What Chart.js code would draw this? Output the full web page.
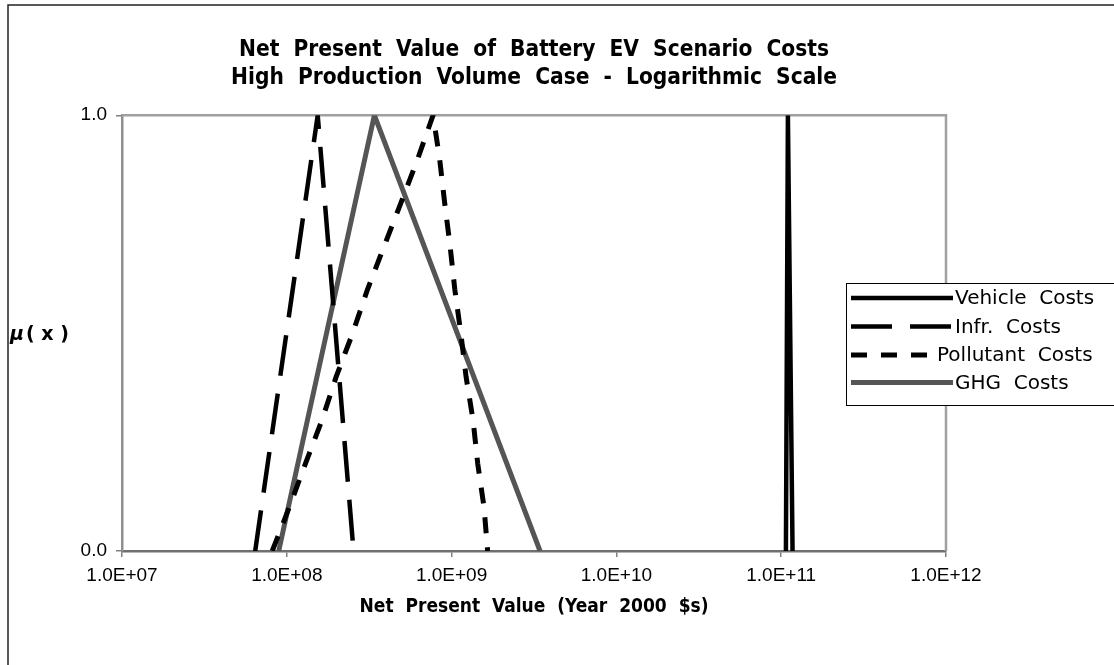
<!DOCTYPE html>
<html>
<head>
<meta charset="utf-8">
<title>Net Present Value of Battery EV Scenario Costs</title>
<script src="https://cdn.jsdelivr.net/npm/chart.js@4/dist/chart.umd.min.js"></script>
<style>
  html, body { margin: 0; padding: 0; background: #ffffff; }
  #wrap { width: 1114px; height: 665px; position: relative; }
  #npv { display: block; }
</style>
</head>
<body>
<div id="wrap"><canvas id="npv" width="1114" height="665"></canvas></div>
<script>
// Fuzzy NPV estimates (year 2000 $) and their membership grades mu(x)
const seriesNames = ['Vehicle Costs', 'Infr. Costs', 'Pollutant Costs', 'GHG Costs'];

const vehicleNPV = [1.068e11, 1.098e11, 1.172e11];
const vehicleMu  = [0, 1, 0];

const infrNPV = [6.43e7, 1.54e8, 2.54e8];
const infrMu  = [0, 1, 0];

const pollutantNPV = [8.16e7, 1.034e8, 1.296e8, 1.633e8, 1.994e8, 2.51e8, 3.087e8, 3.90e8, 4.94e8, 6.23e8, 7.72e8,
                      8.46e8, 9.07e8, 9.79e8, 1.046e9, 1.137e9, 1.224e9, 1.35e9, 1.441e9, 1.574e9, 1.654e9];
const pollutantMu  = [0, 0.1, 0.2, 0.3, 0.4, 0.5, 0.6, 0.7, 0.8, 0.9, 1.0,
                      0.9, 0.8, 0.7, 0.6, 0.5, 0.4, 0.3, 0.2, 0.1, 0];

const ghgNPV = [8.93e7, 3.40e8, 3.44e9];
const ghgMu  = [0, 1, 0];

const xTickValues = [1e7, 1e8, 1e9, 1e10, 1e11, 1e12];
const xTickLabels = ['1.0E+07', '1.0E+08', '1.0E+09', '1.0E+10', '1.0E+11', '1.0E+12'];
const yTickValues = [0, 1];
const yTickLabels = ['0.0', '1.0'];

const toPoints = (xs, ys) => xs.map((x, i) => ({ x: x, y: ys[i] }));

const NARROW = "'Liberation Sans Narrow', 'DejaVu Sans Condensed', 'Liberation Sans', sans-serif";
const PLAIN = "'Liberation Sans', Arial, sans-serif";
const LEGEND_FONT = "'DejaVu Sans', Verdana, sans-serif";

const lineBase = {
  fill: false, tension: 0, pointRadius: 0, pointHoverRadius: 0,
  borderCapStyle: 'butt', borderJoinStyle: 'miter'
};

// Page frame, plot-area border and the horizontal mu(x) label
const framePlugin = {
  id: 'frame',
  beforeDraw(chart) {
    const ctx = chart.ctx;
    ctx.save();
    ctx.fillStyle = '#ffffff';
    ctx.fillRect(0, 0, chart.width, chart.height);
    ctx.strokeStyle = '#222222';
    ctx.lineWidth = 1.5;
    ctx.beginPath();
    ctx.moveTo(8, chart.height);
    ctx.lineTo(8, 5);
    ctx.lineTo(chart.width, 5);
    ctx.stroke();
    ctx.restore();
  },
  beforeDatasetsDraw(chart) {
    const { ctx, chartArea: a } = chart;
    ctx.save();
    ctx.strokeStyle = '#a0a0a0';
    ctx.lineWidth = 2.5;
    ctx.beginPath();
    ctx.moveTo(a.left, a.top);
    ctx.lineTo(a.right, a.top);
    ctx.lineTo(a.right, a.bottom);
    ctx.stroke();
    ctx.restore();
  },
  afterDraw(chart) {
    const ctx = chart.ctx;
    const a = chart.chartArea;
    const midY = (a.top + a.bottom) / 2 + 2;
    ctx.save();
    ctx.fillStyle = '#000000';
    ctx.textBaseline = 'middle';
    ctx.textAlign = 'left';
    ctx.font = "italic bold 19px " + LEGEND_FONT;
    ctx.fillText('\u03bc', 10, midY);
    ctx.font = "bold 19px " + LEGEND_FONT;
    ctx.fillText('( x )', 26, midY);
    ctx.restore();
  }
};

// Boxed legend at the right-hand side, styled from the datasets themselves
const sideLegend = {
  id: 'sideLegend',
  afterDraw(chart) {
    const ctx = chart.ctx;
    const bx = 846, by = 283, bw = 300, bh = 122;
    const rowY = [298, 326.5, 355, 382.5];
    ctx.save();
    ctx.fillStyle = '#ffffff';
    ctx.fillRect(bx, by, bw, bh);
    ctx.strokeStyle = '#000000';
    ctx.lineWidth = 1;
    ctx.strokeRect(bx + 0.5, by + 0.5, bw, bh);
    chart.data.datasets.forEach((ds, i) => {
      const y = rowY[i];
      const sampleEnd = i === 2 ? 931 : 953;
      ctx.setLineDash(ds.borderDash || []);
      ctx.lineDashOffset = 0;
      ctx.strokeStyle = ds.borderColor;
      ctx.lineWidth = ds.borderWidth;
      ctx.lineCap = 'butt';
      ctx.beginPath();
      ctx.moveTo(851, y);
      ctx.lineTo(sampleEnd, y);
      ctx.stroke();
      ctx.setLineDash([]);
      ctx.fillStyle = '#000000';
      ctx.font = "20px " + LEGEND_FONT;
      ctx.textBaseline = 'middle';
      ctx.textAlign = 'left';
      ctx.fillText(ds.label.replace(' ', '  '), i === 2 ? 937 : 955, y + 1);
    });
    ctx.restore();
  }
};

const chart = new Chart(document.getElementById('npv'), {
  type: 'line',
  data: {
    datasets: [
      Object.assign({}, lineBase, { label: seriesNames[0], data: toPoints(vehicleNPV, vehicleMu),
        borderColor: '#000000', borderWidth: 4.5, borderDash: [] }),
      Object.assign({}, lineBase, { label: seriesNames[1], data: toPoints(infrNPV, infrMu),
        borderColor: '#000000', borderWidth: 4.5, borderDash: [41, 18] }),
      Object.assign({}, lineBase, { label: seriesNames[2], data: toPoints(pollutantNPV, pollutantMu),
        borderColor: '#000000', borderWidth: 5, borderDash: [16, 14] }),
      Object.assign({}, lineBase, { label: seriesNames[3], data: toPoints(ghgNPV, ghgMu),
        borderColor: '#555555', borderWidth: 5, borderDash: [] })
    ]
  },
  options: {
    responsive: false,
    animation: false,
    devicePixelRatio: 1,
    events: [],
    layout: { padding: { left: 0, right: 168, top: 0, bottom: 0 } },
    plugins: {
      legend: { display: false },
      tooltip: { enabled: false },
      title: {
        display: true,
        fullSize: false,
        text: ['Net  Present  Value  of  Battery  EV  Scenario  Costs',
               'High  Production  Volume  Case  -  Logarithmic  Scale'],
        color: '#000000',
        font: { family: NARROW, size: 22.5, weight: 'bold', lineHeight: 1.25 },
        padding: { top: 36, bottom: 23 }
      }
    },
    scales: {
      x: {
        type: 'logarithmic',
        min: xTickValues[0],
        max: xTickValues[xTickValues.length - 1],
        afterBuildTicks(scale) { scale.ticks = xTickValues.map(v => ({ value: v })); },
        afterFit(scale) { scale.height = 114; },
        ticks: {
          autoSkip: false, maxRotation: 0, minRotation: 0, padding: 7,
          color: '#000000', font: { family: PLAIN, size: 19 },
          callback: (v, i) => xTickLabels[i]
        },
        grid: { drawOnChartArea: false, drawTicks: true, tickLength: 6, color: '#808080', lineWidth: 1.5 },
        border: { display: true, color: '#707070', width: 2.5 },
        title: {
          display: true,
          text: 'Net  Present  Value  (Year  2000  $s)',
          color: '#000000',
          font: { family: NARROW, size: 19, weight: 'bold', lineHeight: 1.2 },
          padding: { top: 0, bottom: 47 }
        }
      },
      y: {
        type: 'linear',
        min: 0,
        max: 1,
        afterBuildTicks(scale) { scale.ticks = yTickValues.map(v => ({ value: v })); },
        afterFit(scale) { scale.width = 122; },
        ticks: {
          padding: 9, color: '#000000', font: { family: PLAIN, size: 19 },
          callback: (v, i) => yTickLabels[i]
        },
        grid: { drawOnChartArea: false, drawTicks: true, tickLength: 6, color: '#808080', lineWidth: 1.5 },
        border: { display: true, color: '#909090', width: 2.5 }
      }
    }
  },
  plugins: [framePlugin, sideLegend]
});
</script>
</body>
</html>
